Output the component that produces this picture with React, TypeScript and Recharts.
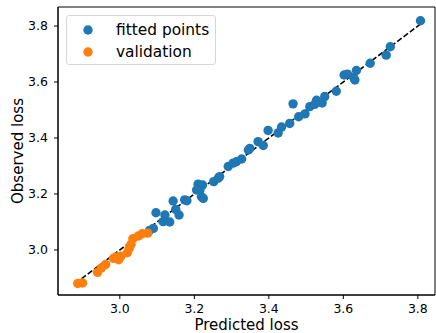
import React from 'react';
import { ScatterChart, Scatter, XAxis, YAxis, ReferenceLine, ReferenceArea, Legend } from 'recharts';

const fittedX = [3.080, 3.090, 3.097, 3.116, 3.121, 3.134, 3.143, 3.150, 3.159, 3.174, 3.180, 3.206, 3.210, 3.215, 3.219, 3.224, 3.222, 3.252, 3.264, 3.268, 3.291, 3.304, 3.313, 3.327, 3.345, 3.349, 3.371, 3.385, 3.398, 3.425, 3.434, 3.456, 3.465, 3.480, 3.497, 3.510, 3.523, 3.528, 3.543, 3.550, 3.581, 3.602, 3.611, 3.631, 3.628, 3.635, 3.672, 3.715, 3.726, 3.807];
const fittedY = [3.070, 3.077, 3.133, 3.101, 3.125, 3.100, 3.175, 3.145, 3.125, 3.179, 3.176, 3.214, 3.235, 3.214, 3.190, 3.184, 3.232, 3.244, 3.256, 3.262, 3.298, 3.310, 3.315, 3.325, 3.357, 3.363, 3.387, 3.373, 3.427, 3.418, 3.439, 3.452, 3.522, 3.476, 3.486, 3.512, 3.520, 3.535, 3.525, 3.548, 3.567, 3.625, 3.628, 3.607, 3.615, 3.641, 3.667, 3.696, 3.726, 3.819];

const validX = [2.887, 2.900, 2.940, 2.950, 2.962, 2.983, 2.990, 2.997, 3.003, 3.020, 3.025, 3.030, 3.035, 3.050, 3.060, 3.075];
const validY = [2.880, 2.882, 2.920, 2.935, 2.948, 2.970, 2.975, 2.965, 2.978, 2.990, 3.005, 3.020, 3.040, 3.050, 3.058, 3.060];

const ticks = [3.0, 3.2, 3.4, 3.6, 3.8];

const fitted = fittedX.map((x, i) => ({ x, y: fittedY[i] }));
const validation = validX.map((x, i) => ({ x, y: validY[i] }));

const all = [...fittedX, ...fittedY, ...validX, ...validY];
const lo = Math.min(...all);
const hi = Math.max(...all);

const xDomain = [2.834, 3.846];
const yDomain = [2.839, 3.868];

const font = 'DejaVu Sans';

const dot = (color: string) => (props: any) => (
  <circle cx={props.cx} cy={props.cy} r={4.7} fill={color} />
);

const LegendBox: React.FC<any> = ({ payload }) => (
  <div
    style={{
      width: 150,
      height: 50,
      boxSizing: 'border-box',
      border: '1px solid #d6d6d6',
      borderRadius: 3,
      background: 'rgba(255,255,255,0.8)',
      paddingTop: 3,
      fontFamily: font,
      fontSize: 15.4,
      color: '#000',
    }}
  >
    {(payload || []).map((p: any) => (
      <div key={p.value} style={{ height: 22, display: 'flex', alignItems: 'center', position: 'relative' }}>
        <svg width={10} height={10} style={{ position: 'absolute', left: 16 }}>
          <circle cx={5} cy={5} r={4.7} fill={p.color} />
        </svg>
        <span style={{ position: 'absolute', left: 49, lineHeight: '22px' }}>{p.value}</span>
      </div>
    ))}
  </div>
);

const App: React.FC = () => {
  return (
    <div style={{ position: 'absolute', left: 0, top: 0, width: 436, height: 333, background: '#fff' }}>
      <ScatterChart width={436} height={333} margin={{ top: 7, right: 1, left: 0, bottom: 0 }}>
        <XAxis
          type="number"
          dataKey="x"
          domain={xDomain}
          ticks={ticks}
          tickFormatter={(v: number) => v.toFixed(1)}
          height={38}
          tickSize={4}
          tickMargin={5}
          allowDataOverflow
          stroke="#000"
          tick={{ fill: '#000', fontSize: 12.5, fontFamily: font }}
          label={{ value: 'Predicted loss', position: 'insideBottom', offset: 3, fill: '#000', fontSize: 15, fontFamily: font }}
        />
        <YAxis
          type="number"
          dataKey="y"
          domain={yDomain}
          ticks={ticks}
          tickFormatter={(v: number) => v.toFixed(1)}
          width={58}
          tickSize={4}
          tickMargin={6}
          allowDataOverflow
          stroke="#000"
          tick={{ fill: '#000', fontSize: 12.5, fontFamily: font }}
          label={{ value: 'Observed loss', angle: -90, position: 'insideLeft', offset: 17.5, fill: '#000', fontSize: 15, fontFamily: font, style: { textAnchor: 'middle' } }}
        />
        <ReferenceArea x1={xDomain[0]} x2={xDomain[1]} y1={yDomain[0]} y2={yDomain[1]} fill="none" stroke="#000" strokeWidth={1} />
        <Scatter name="fitted points" data={fitted} fill="#1f77b4" shape={dot('#1f77b4')} isAnimationActive={false} />
        <Scatter name="validation" data={validation} fill="#ff7f0e" shape={dot('#ff7f0e')} isAnimationActive={false} />
        <ReferenceLine
          segment={[{ x: lo, y: lo }, { x: hi, y: hi }]}
          stroke="#000"
          strokeWidth={1.6}
          strokeDasharray="5.5 2.4"
        />
        <Legend
          layout="horizontal"
          verticalAlign="middle"
          align="center"
          content={<LegendBox />}
          wrapperStyle={{ top: 15, left: 66, width: 150, height: 50 }}
        />
      </ScatterChart>
    </div>
  );
};

export default App;
